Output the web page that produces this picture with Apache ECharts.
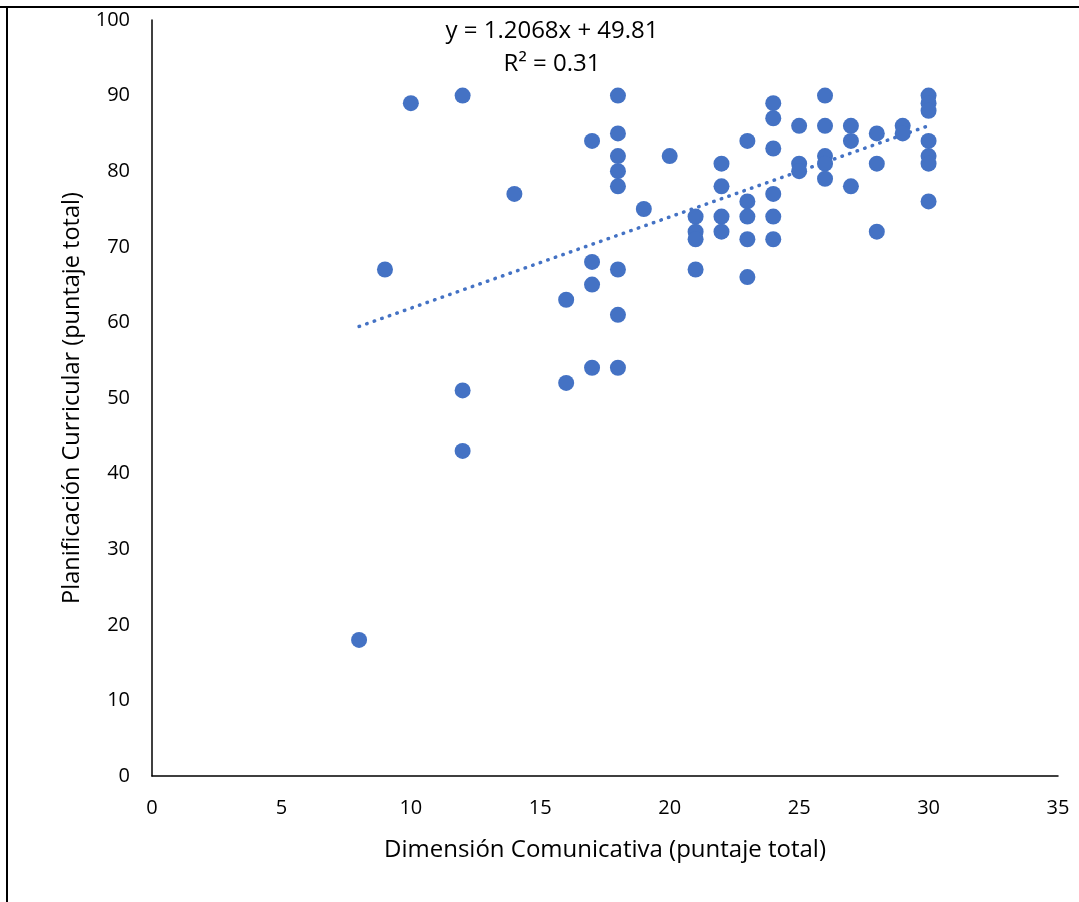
<!DOCTYPE html>
<html>
<head>
<meta charset="utf-8">
<title>Dimensión Comunicativa vs Planificación Curricular</title>
<script src="https://cdn.jsdelivr.net/npm/echarts@6/dist/echarts.min.js"></script>
<style>
  html, body { margin: 0; padding: 0; background: #fff; }
  #chart { width: 1079px; height: 902px; }
</style>
</head>
<body>
<div id="chart"></div>
<script>
// puntajes
var dimComunicativa = [
  8, 9, 10, 12, 12, 12, 14, 16, 16,
  17, 17, 17, 17,
  18, 18, 18, 18, 18, 18, 18, 18,
  19, 20,
  21, 21, 21, 21,
  22, 22, 22, 22,
  23, 23, 23, 23, 23,
  24, 24, 24, 24, 24, 24,
  25, 25, 25,
  26, 26, 26, 26, 26,
  27, 27, 27,
  28, 28, 28,
  29, 29,
  30, 30, 30, 30, 30, 30, 30
];
var planCurricular = [
  18, 67, 89, 90, 51, 43, 77, 63, 52,
  84, 68, 65, 54,
  90, 85, 82, 80, 78, 67, 61, 54,
  75, 82,
  74, 72, 71, 67,
  81, 78, 74, 72,
  84, 76, 74, 71, 66,
  89, 87, 83, 77, 74, 71,
  86, 81, 80,
  90, 86, 82, 81, 79,
  86, 84, 78,
  85, 81, 72,
  86, 85,
  90, 89, 88, 84, 82, 81, 76
];

// línea de tendencia (Excel)
var pendiente = 1.2068;
var intercepto = 49.81;
var r2 = 0.31;

var xTicks = [0, 5, 10, 15, 20, 25, 30, 35];
var yTicks = [0, 10, 20, 30, 40, 50, 60, 70, 80, 90, 100];

var puntos = dimComunicativa.map(function (x, i) { return [x, planCurricular[i]]; });
var xMin = Math.min.apply(null, dimComunicativa);
var xMax = Math.max.apply(null, dimComunicativa);
var tendencia = [
  [xMin, pendiente * xMin + intercepto],
  [xMax, pendiente * xMax + intercepto]
];

var chart = echarts.init(document.getElementById('chart'));

var option = {
  animation: false,
  backgroundColor: '#fff',
  grid: { left: 152, top: 20, width: 906, height: 756 },
  xAxis: {
    type: 'value',
    min: xTicks[0],
    max: xTicks[xTicks.length - 1],
    interval: 5,
    name: 'Dimensión Comunicativa (puntaje total)',
    nameLocation: 'middle',
    nameGap: 62,
    nameTextStyle: { fontFamily: 'Open Sans', fontSize: 24, color: '#000' },
    axisLine: { lineStyle: { color: '#000', width: 1.5 } },
    axisTick: { show: false },
    splitLine: { show: false },
    axisLabel: { fontFamily: 'Open Sans', fontSize: 20, color: '#000', margin: 22 }
  },
  yAxis: {
    type: 'value',
    min: yTicks[0],
    max: yTicks[yTicks.length - 1],
    interval: 10,
    name: 'Planificación Curricular (puntaje total)',
    nameLocation: 'middle',
    nameGap: 67,
    nameTextStyle: { fontFamily: 'Open Sans', fontSize: 23.5, color: '#000' },
    axisLine: { show: true, lineStyle: { color: '#000', width: 1.5 } },
    axisTick: { show: false },
    splitLine: { show: false },
    axisLabel: { fontFamily: 'Open Sans', fontSize: 20, color: '#000', margin: 22 }
  },
  graphic: [
    { type: 'line', shape: { x1: 0, y1: 7, x2: 1079, y2: 7 }, style: { stroke: '#000', lineWidth: 2 } },
    { type: 'line', shape: { x1: 7, y1: 7, x2: 7, y2: 902 }, style: { stroke: '#000', lineWidth: 2 } },
    {
      type: 'text', x: 552, y: 31,
      style: {
        text: 'y = ' + pendiente + 'x + ' + intercepto,
        fontFamily: 'Open Sans', fontSize: 24,
        fill: '#000', textAlign: 'center', textVerticalAlign: 'middle'
      }
    },
    {
      type: 'text', x: 552, y: 64,
      style: {
        text: 'R² = ' + r2,
        fontFamily: 'Open Sans', fontSize: 24,
        fill: '#000', textAlign: 'center', textVerticalAlign: 'middle'
      }
    }
  ],
  series: [
    {
      type: 'scatter',
      data: puntos,
      symbolSize: 16,
      itemStyle: { color: '#4472C4', opacity: 1 },
      z: 3
    },
    {
      type: 'line',
      data: tendencia,
      symbol: 'none',
      lineStyle: { color: '#4472C4', width: 3.5, type: [0.5, 7.5], cap: 'round' },
      z: 2
    }
  ]
};

chart.setOption(option);
</script>
</body>
</html>
